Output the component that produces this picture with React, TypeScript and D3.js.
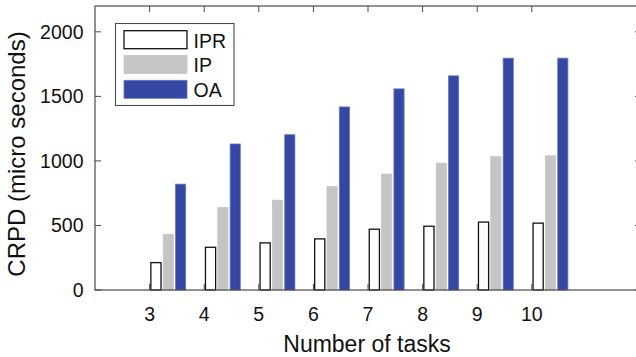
import React from "react";
import * as d3 from "d3";

const categories = [3, 4, 5, 6, 7, 8, 9, 10];
const seriesNames = ["IPR", "IP", "OA"];
const iprValues = [212, 331, 365, 396, 471, 494, 526, 518];
const ipValues = [432, 639, 696, 802, 898, 983, 1033, 1040];
const oaValues = [820, 1131, 1203, 1418, 1558, 1659, 1796, 1796];
const yTicks = [0, 500, 1000, 1500, 2000];
const xDomain = [2, 12];
const yDomain = [0, 2200];

const W = 636;
const H = 357;
const M = { left: 95, top: 6, right: 641, bottom: 290 };

const fills = ["#FFFFFF", "#C4C5C4", "#3447A2"];
const strokes = ["#111111", "#C4C5C4", "#6577BE"];
const axisColor = "#4a4a4a";
const font = "'Liberation Sans', Arial, Helvetica, sans-serif";

export default function App() {
  const x = d3.scaleLinear().domain(xDomain).range([M.left, M.right]);
  const y = d3.scaleLinear().domain(yDomain).range([M.bottom, M.top]);
  const series = [iprValues, ipValues, oaValues];
  const unit = x(1) - x(0);
  const barW = 0.186 * unit;
  const offset = (k: number) => (0.116 + 0.226 * k) * unit;
  const tickLen = 6;

  return (
    <svg
      width={W}
      height={H}
      style={{ position: "absolute", left: 0, top: 0, background: "#fff" }}
    >
      {/* bars */}
      {series.map((vals, k) =>
        vals.map((v, i) => {
          const cx = x(categories[i]) + offset(k);
          return (
            <rect
              key={`b${k}-${i}`}
              x={cx - barW / 2}
              y={y(v)}
              width={barW}
              height={y(0) - y(v)}
              fill={fills[k]}
              stroke={strokes[k]}
              strokeWidth={k === 0 ? 1.3 : 0.8}
            />
          );
        })
      )}

      {/* axes box */}
      <rect
        x={M.left}
        y={M.top}
        width={M.right - M.left}
        height={M.bottom - M.top}
        fill="none"
        stroke={axisColor}
        strokeWidth={1.2}
      />

      {/* x ticks */}
      {categories.map((c) => (
        <g key={`xt${c}`}>
          <line x1={x(c)} x2={x(c)} y1={M.top} y2={M.top + tickLen} stroke={axisColor} strokeWidth={1} />
          <line x1={x(c)} x2={x(c)} y1={M.bottom} y2={M.bottom - tickLen} stroke={axisColor} strokeWidth={1} />
          <text
            x={x(c)}
            y={320.5}
            textAnchor="middle"
            fontFamily={font}
            fontSize={19.5}
            fill="#111"
          >
            {c}
          </text>
        </g>
      ))}

      {/* y ticks */}
      {yTicks.map((t) => (
        <g key={`yt${t}`}>
          <line x1={M.left} x2={M.left + tickLen} y1={y(t)} y2={y(t)} stroke={axisColor} strokeWidth={1} />
          <line x1={M.right} x2={M.right - tickLen} y1={y(t)} y2={y(t)} stroke={axisColor} strokeWidth={1} />
          <text
            x={83.5}
            y={y(t) + 7}
            textAnchor="end"
            fontFamily={font}
            fontSize={19.5}
            fill="#111"
          >
            {t}
          </text>
        </g>
      ))}

      {/* axis labels */}
      <text
        x={367}
        y={352.3}
        textAnchor="middle"
        fontFamily={font}
        fontSize={23}
        fill="#111"
      >
        Number of tasks
      </text>
      <text
        transform={`translate(25,154) rotate(-90)`}
        textAnchor="middle"
        fontFamily={font}
        fontSize={24}
        fill="#111"
      >
        CRPD (micro seconds)
      </text>

      {/* legend */}
      <rect x={115.5} y={23.5} width={118.5} height={82} fill="#fff" stroke={axisColor} strokeWidth={1.1} />
      {seriesNames.map((name, k) => {
        const top = 30.7 + k * 24.8;
        return (
          <g key={`lg${name}`}>
            <rect
              x={124}
              y={top}
              width={63}
              height={18}
              fill={fills[k]}
              stroke={strokes[k]}
              strokeWidth={k === 0 ? 1.3 : 0.8}
            />
            <text x={193.5} y={top + 16.8} fontFamily={font} fontSize={19.5} fill="#111">
              {name}
            </text>
          </g>
        );
      })}
    </svg>
  );
}
